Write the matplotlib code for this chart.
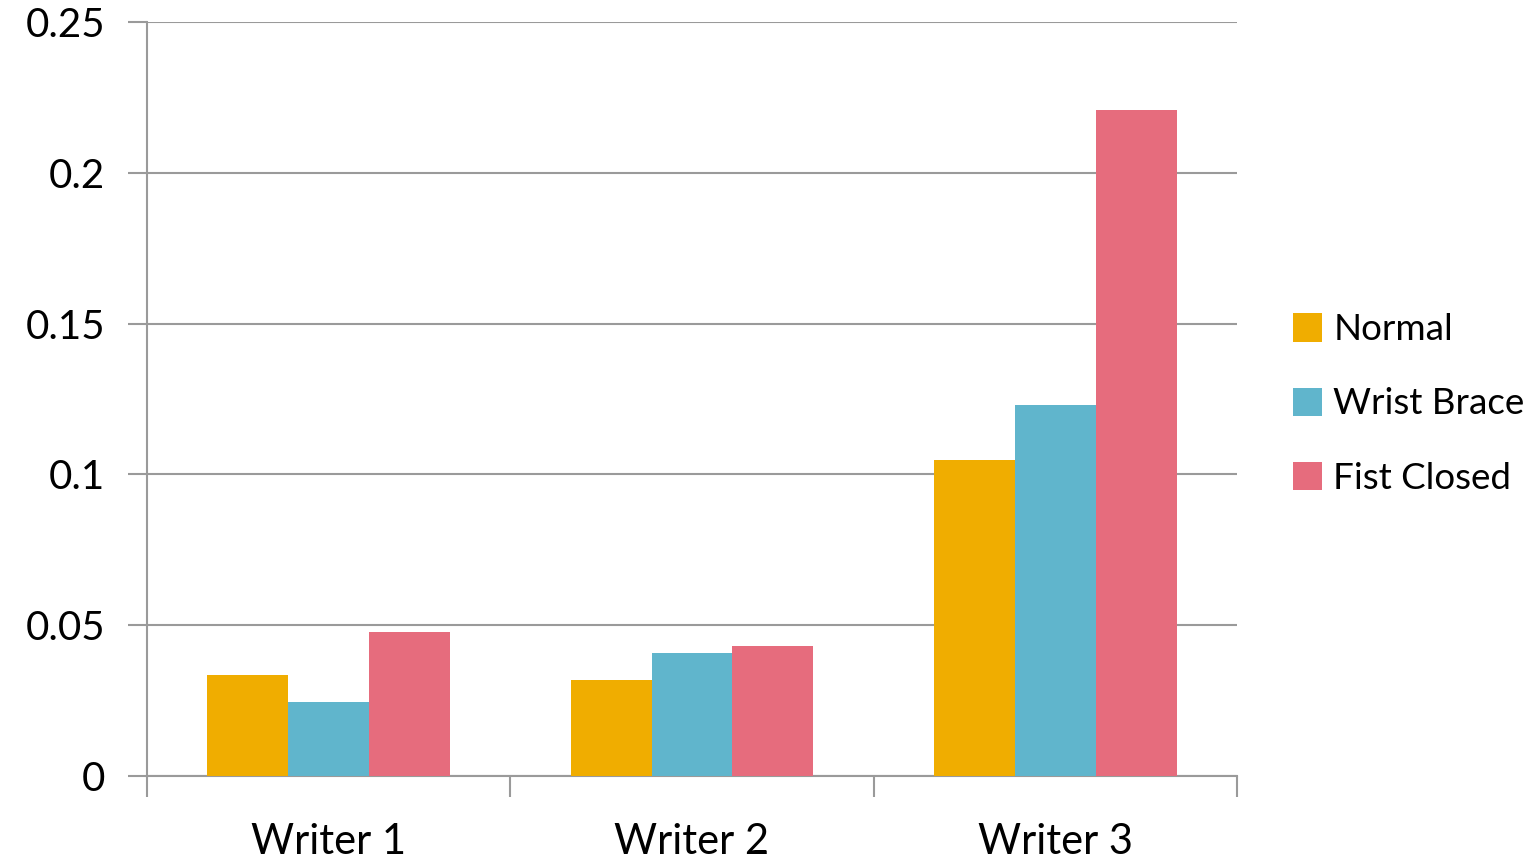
import matplotlib
matplotlib.use("Agg")
import matplotlib.pyplot as plt
import numpy as np

categories = ["Writer 1", "Writer 2", "Writer 3"]
series = ["Normal", "Wrist Brace", "Fist Closed"]
normal = [0.0335, 0.0318, 0.1048]
wrist_brace = [0.0245, 0.0408, 0.1230]
fist_closed = [0.0477, 0.0431, 0.2208]
y_ticks = [0, 0.05, 0.1, 0.15, 0.2, 0.25]
y_tick_labels = ["0", "0.05", "0.1", "0.15", "0.2", "0.25"]

colors = ["#F0AD00", "#60B5CC", "#E66C7D"]
grid_color = "#9a9a9a"

plt.rcParams["font.family"] = ["Lato", "DejaVu Sans"]

fig = plt.figure(figsize=(15.37, 8.61), dpi=100)
ax = fig.add_axes([147 / 1537, 85 / 861, (1237 - 147) / 1537, (776 - 22) / 861])

x = np.arange(len(categories))
width = 0.2225
values = [normal, wrist_brace, fist_closed]
for i, (name, vals, col) in enumerate(zip(series, values, colors)):
    ax.bar(x + (i - 1) * width, vals, width, color=col, label=name, zorder=3)

ax.set_xlim(-0.5, len(categories) - 0.5)
ax.set_ylim(0, 0.25)

ax.set_yticks(y_ticks)
ax.set_yticklabels(y_tick_labels, fontsize=29)
ax.yaxis.grid(True, color=grid_color, linewidth=1.5, zorder=0)
ax.tick_params(axis="y", length=14, width=1.5, color=grid_color, pad=16)

ax.set_xticks(x)
ax.set_xticklabels(categories, fontsize=30)
ax.set_xticks(np.arange(-0.5, len(categories)), minor=True)
ax.tick_params(axis="x", which="major", length=0, pad=34)
ax.tick_params(axis="x", which="minor", length=15, width=1.5, color=grid_color)

for side in ["top", "right"]:
    ax.spines[side].set_visible(False)
for side in ["left", "bottom"]:
    ax.spines[side].set_color(grid_color)
    ax.spines[side].set_linewidth(1.5)

fig.legend(loc="center left", bbox_to_anchor=(1278 / 1537, 1 - 404 / 861),
           frameon=False, fontsize=26.5, handlelength=0.8, handleheight=0.8,
           handletextpad=0.3, labelspacing=1.12, borderaxespad=0)

fig.savefig("out.png", dpi=100)
